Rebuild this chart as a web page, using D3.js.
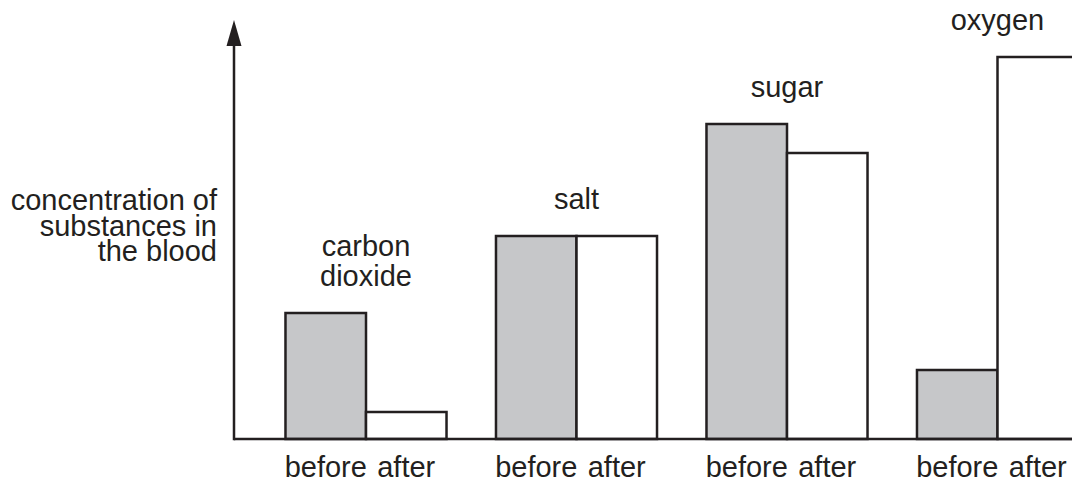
<!DOCTYPE html>
<html>
<head>
<meta charset="utf-8">
<script src="https://cdn.jsdelivr.net/npm/d3@7"></script>
<style>
  html, body { margin: 0; padding: 0; background: #fff; }
  svg { display: block; }
  text { font-family: "Liberation Sans", Arial, sans-serif; fill: #231f20; }
</style>
</head>
<body>
<svg></svg>
<script>
const width = 1072;
const height = 483;

// substances (label lines) and the two readings per substance (arbitrary units)
const substances = ["carbon dioxide", "salt", "sugar", "oxygen"];
const labelLines = [["carbon", "dioxide"], ["salt"], ["sugar"], ["oxygen"]];
const phases = ["before", "after"];
const beforeValues = [126, 203, 315, 69];
const afterValues = [27, 203, 286, 382];
const yLabel = ["concentration of", "substances in", "the blood"];

const ink = "#231f20";
const grey = "#c6c7c9";
const fontSize = 29;

const svg = d3.select("svg").attr("width", width).attr("height", height);

const x0 = d3.scaleBand()
  .domain(substances)
  .range([260.75, 1102.75])
  .paddingInner(0.235)
  .paddingOuter(0.1175);

const x1 = d3.scaleBand().domain(phases).range([0, x0.bandwidth()]);

const y = d3.scaleLinear().domain([0, 419]).range([439, 20]);

const data = substances.map((s, i) => ({
  name: s,
  lines: labelLines[i],
  values: [
    { phase: "before", v: beforeValues[i] },
    { phase: "after", v: afterValues[i] },
  ],
}));

const groups = svg.selectAll("g.group")
  .data(data)
  .join("g")
  .attr("class", "group")
  .attr("transform", (d) => `translate(${x0(d.name)},0)`);

groups.selectAll("rect")
  .data((d) => d.values)
  .join("rect")
  .attr("x", (d) => x1(d.phase))
  .attr("y", (d) => y(d.v))
  .attr("width", x1.bandwidth())
  .attr("height", (d) => y(0) - y(d.v))
  .attr("fill", (d) => (d.phase === "before" ? grey : "#fff"))
  .attr("stroke", ink)
  .attr("stroke-width", 2.5);

// phase labels under the bars
groups.selectAll("text.phase")
  .data((d) => d.values)
  .join("text")
  .attr("class", "phase")
  .attr("x", (d) => x1(d.phase) + x1.bandwidth() / 2)
  .attr("y", 477)
  .attr("text-anchor", "middle")
  .attr("font-size", fontSize)
  .text((d) => d.phase);

// substance names above the taller bar of each pair
groups.append("text")
  .attr("class", "name")
  .attr("text-anchor", "middle")
  .attr("font-size", fontSize)
  .each(function (d) {
    const t = y(d3.max(d.values, (v) => v.v));
    const n = d.lines.length;
    d3.select(this).selectAll("tspan")
      .data(d.lines)
      .join("tspan")
      .attr("x", x0.bandwidth() / 2)
      .attr("y", (l, i) => t - 27 - (n - 1 - i) * 30)
      .text((l) => l);
  });

// axes
const ax = 234;
svg.append("line")
  .attr("x1", ax).attr("x2", width)
  .attr("y1", y(0)).attr("y2", y(0))
  .attr("stroke", ink).attr("stroke-width", 2.5);

svg.append("line")
  .attr("x1", ax).attr("x2", ax)
  .attr("y1", y(0) + 1.25).attr("y2", 44)
  .attr("stroke", ink).attr("stroke-width", 2.5);

svg.append("path")
  .attr("d", `M${ax},20 L${ax - 7.5},46 L${ax + 7.5},46 Z`)
  .attr("fill", ink);

svg.append("text")
  .attr("text-anchor", "end")
  .attr("font-size", fontSize)
  .selectAll("tspan")
  .data(yLabel)
  .join("tspan")
  .attr("x", 217)
  .attr("y", (d, i) => 210 + i * 25.5)
  .text((d) => d);
</script>
</body>
</html>
